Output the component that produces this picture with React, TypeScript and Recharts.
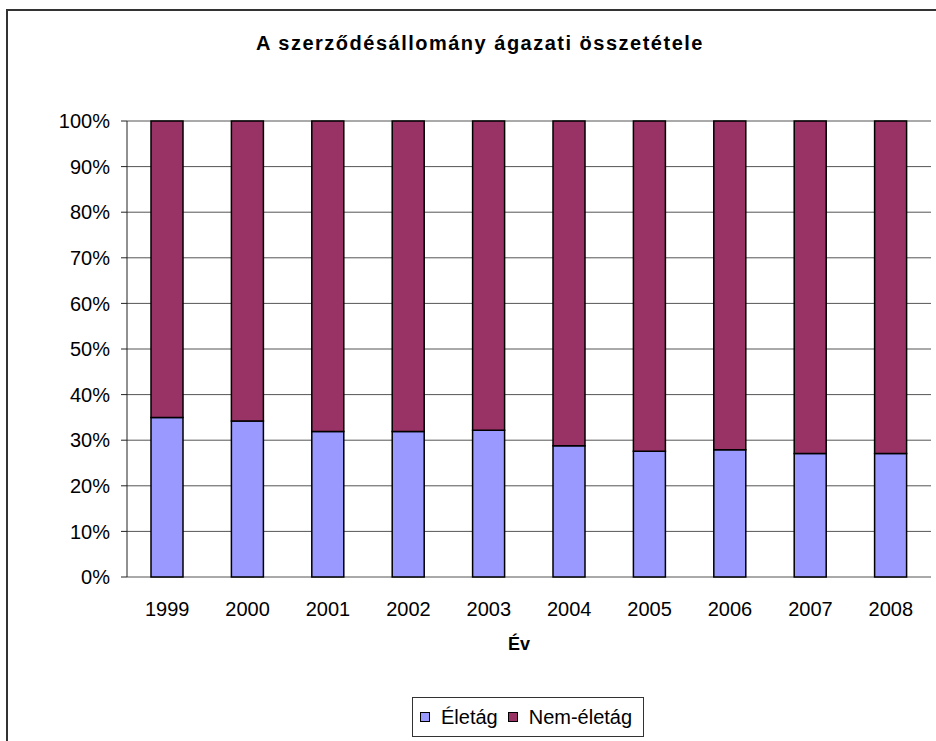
import React from "react";
import { BarChart, Bar, XAxis, YAxis, CartesianGrid, ReferenceLine } from "recharts";

// values (percent of portfolio)
const years = ["1999", "2000", "2001", "2002", "2003", "2004", "2005", "2006", "2007", "2008"];
const eletag = [35.0, 34.2, 31.9, 31.9, 32.2, 28.8, 27.6, 27.9, 27.1, 27.1];
const nemEletag = [65.0, 65.8, 68.1, 68.1, 67.8, 71.2, 72.4, 72.1, 72.9, 72.9];
const yTicks = [0, 10, 20, 30, 40, 50, 60, 70, 80, 90, 100];
const seriesNames = ["Életág", "Nem-életág"];
const seriesColors = ["#9999FF", "#993366"];
const boundaryTicks = [0, 1, 2, 3, 4, 5, 6, 7, 8, 9, 10];

const data = years.map((year, i) => ({
  year,
  eletag: eletag[i],
  nemEletag: nemEletag[i],
}));

const font = "'Liberation Sans', Arial, sans-serif";

const App: React.FC = () => {
  return (
    <div
      style={{
        position: "absolute",
        left: 0,
        top: 0,
        width: 936,
        height: 741,
        overflow: "hidden",
        background: "#fff",
        fontFamily: font,
      }}
    >
      <div style={{ position: "absolute", left: 0, top: 0 }}>
        <BarChart
          width={936}
          height={741}
          data={data}
          margin={{ top: 121, right: 5, bottom: 0, left: 0 }}
          barSize={32}
        >
          <CartesianGrid vertical={false} stroke="#555" strokeWidth={1} />
          <XAxis
            xAxisId="b"
            type="number"
            domain={[0, 10]}
            ticks={boundaryTicks}
            tick={false}
            tickSize={6}
            height={0}
            stroke="#222"
            allowDataOverflow
          />
          <XAxis
            xAxisId="c"
            dataKey="year"
            height={164}
            axisLine={false}
            tickLine={false}
            tickSize={0}
            tickMargin={25}
            tick={{ fill: "#000", fontSize: 20, fontFamily: font }}
            label={{
              value: "Év",
              position: "insideTop",
              offset: 60,
              dx: -10,
              fill: "#000",
              fontSize: 18,
              fontWeight: "bold",
              fontFamily: font,
            }}
          />
          <YAxis
            width={127}
            domain={[0, 100]}
            ticks={yTicks}
            interval={0}
            tickFormatter={(v: number) => `${v}%`}
            tickSize={6}
            tickMargin={11}
            stroke="#222"
            tick={{ fill: "#000", fontSize: 20, fontFamily: font }}
          />
          <ReferenceLine x={10} xAxisId="b" stroke="#999" strokeWidth={1.5} />
          <Bar
            xAxisId="c"
            dataKey="eletag"
            name={seriesNames[0]}
            stackId="a"
            fill={seriesColors[0]}
            stroke="#000"
            strokeWidth={1.5}
            isAnimationActive={false}
          />
          <Bar
            xAxisId="c"
            dataKey="nemEletag"
            name={seriesNames[1]}
            stackId="a"
            fill={seriesColors[1]}
            stroke="#000"
            strokeWidth={1.5}
            isAnimationActive={false}
          />
        </BarChart>
      </div>

      {/* chart area border, runs off the right and bottom */}
      <div
        style={{
          position: "absolute",
          left: 6,
          top: 9,
          width: 2,
          height: 732,
          background: "#333",
          zIndex: 5,
        }}
      />
      <div
        style={{
          position: "absolute",
          left: 6,
          top: 9,
          width: 930,
          height: 2,
          background: "#333",
          zIndex: 5,
        }}
      />

      {/* title */}
      <div
        style={{
          position: "absolute",
          left: 480,
          top: 34,
          transform: "translateX(-50%)",
          whiteSpace: "nowrap",
          fontSize: 20,
          lineHeight: "19px",
          fontWeight: "bold",
          letterSpacing: 1.5,
          color: "#000",
          zIndex: 5,
        }}
      >
        A szerződésállomány ágazati összetétele
      </div>

      {/* legend */}
      <div
        style={{
          position: "absolute",
          left: 412,
          top: 697,
          width: 223,
          height: 38,
          border: "1px solid #333",
          display: "flex",
          alignItems: "center",
          paddingLeft: 7,
          fontSize: 20,
          color: "#000",
          zIndex: 5,
          background: "#fff",
        }}
      >
        {seriesNames.map((name, i) => (
          <div key={name} style={{ display: "flex", alignItems: "center", marginRight: 10 }}>
            <div
              style={{
                width: 8,
                height: 8,
                border: "1px solid #000",
                background: seriesColors[i],
                marginRight: 11,
              }}
            />
            <span>{name}</span>
          </div>
        ))}
      </div>
    </div>
  );
};

export default App;
